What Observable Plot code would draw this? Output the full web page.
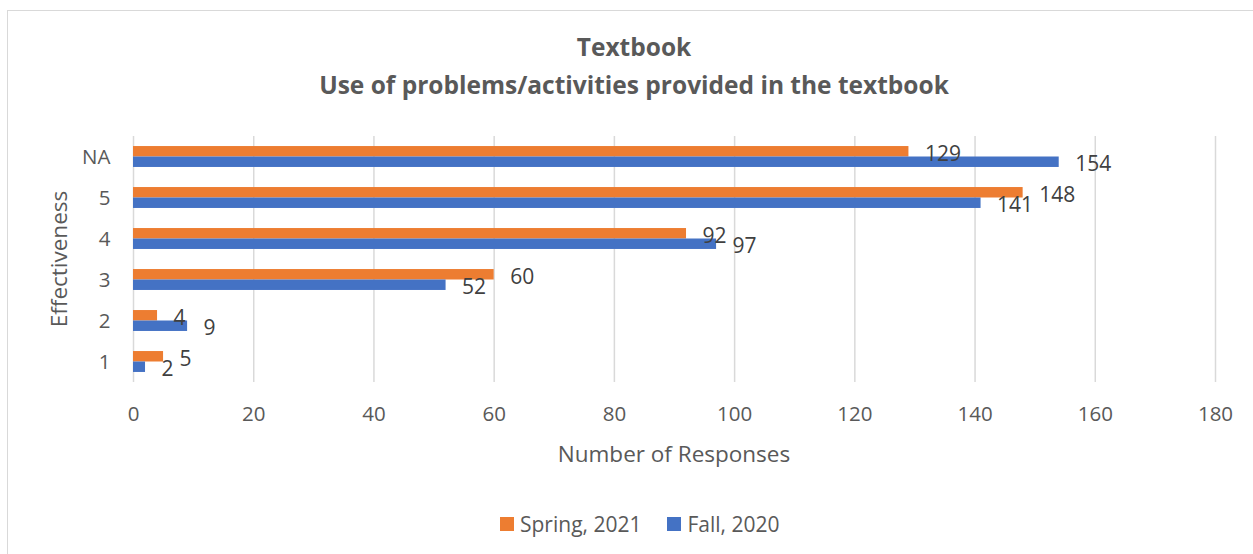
<!DOCTYPE html>
<html><head><meta charset="utf-8">
<script src="https://cdn.jsdelivr.net/npm/d3@7"></script>
<script src="https://cdn.jsdelivr.net/npm/@observablehq/plot@0.6"></script>
<style>
body{margin:0;background:#fff;font-family:"Open Sans",sans-serif;width:1253px;height:554px;overflow:hidden;position:relative;}
#frame{position:absolute;left:7px;top:10px;width:1254px;height:560px;border:1.5px solid #d9d9d9;box-sizing:border-box;}
.title{position:absolute;left:7px;width:1254px;text-align:center;color:#595959;font-weight:bold;font-size:24.5px;white-space:nowrap;line-height:34px;}
#chart{position:absolute;left:0;top:120px;}
#ylabel{position:absolute;left:58px;top:259px;transform:translate(-50%,-50%) rotate(-90deg);color:#595959;font-size:22.5px;white-space:nowrap;}
#xlabel{position:absolute;left:674px;top:453px;transform:translate(-50%,-50%);color:#595959;font-size:22.5px;white-space:nowrap;}
#legend{position:absolute;top:524px;left:500px;transform:translateY(-50%);display:flex;align-items:center;color:#595959;font-size:21px;white-space:nowrap;}
#legend .sw{display:inline-block;width:14px;height:14px;margin-right:6px;}
#legend .item{display:flex;align-items:center;margin-right:26px;}
</style>
</head><body>
<div id="frame"></div>
<div class="title" id="t1" style="top:30px;"></div>
<div class="title" id="t2" style="top:68px;"></div>
<div id="ylabel"></div>
<div id="chart"></div>
<div id="xlabel"></div>
<div id="legend"></div>
<script>
const titleText = "Textbook";
const subtitleText = "Use of problems/activities provided in the textbook";
const yTitle = "Effectiveness";
const xTitle = "Number of Responses";
const categories = ["NA", "5", "4", "3", "2", "1"];
const seriesNames = ["Spring, 2021", "Fall, 2020"];
const springValues = [129, 148, 92, 60, 4, 5];
const fallValues = [154, 141, 97, 52, 9, 2];
const xTicks = [0, 20, 40, 60, 80, 100, 120, 140, 160, 180];
const colors = ["#ED7D31", "#4472C4"];

document.getElementById("t1").textContent = titleText;
document.getElementById("t2").textContent = subtitleText;
document.getElementById("ylabel").textContent = yTitle;
document.getElementById("xlabel").textContent = xTitle;

const data = [];
categories.forEach((c, i) => {
  data.push({cat: c, series: seriesNames[0], value: springValues[i]});
  data.push({cat: c, series: seriesNames[1], value: fallValues[i]});
});

const chart = Plot.plot({
  width: 1253,
  height: 350,
  marginLeft: 133,
  marginRight: 38,
  marginTop: 15,
  marginBottom: 88,
  style: {fontFamily: "Open Sans, sans-serif", fontSize: "20px", color: "#595959", background: "transparent"},
  x: {domain: [0, 180]},
  fy: {domain: categories, padding: 0},
  y: {domain: seriesNames, paddingInner: 0, paddingOuter: 0.96, round: false},
  color: {domain: seriesNames, range: colors},
  marks: [
    Plot.gridX(xTicks, {stroke: "#d9d9d9", strokeOpacity: 1, strokeWidth: 1.5}),
    Plot.barX(data, {x: "value", y: "series", fy: "cat", fill: "series"}),
    Plot.text(data, {x: "value", y: "series", fy: "cat", text: d => String(d.value), textAnchor: "start", dx: 16, dy: 2, fill: "#404040", fontSize: 21}),
    Plot.axisX({ticks: xTicks, tickSize: 0, tickPadding: 24, label: null, fontSize: 20.5}),
    Plot.axisFy({anchor: "left", tickSize: 0, tickPadding: 23, label: null, fontSize: 20.5}),
    Plot.axisY({ticks: [], label: null})
  ]
});
document.getElementById("chart").appendChild(chart);

const legend = document.getElementById("legend");
seriesNames.forEach((s, i) => {
  const item = document.createElement("span");
  item.className = "item";
  const sw = document.createElement("span");
  sw.className = "sw";
  sw.style.background = colors[i];
  item.appendChild(sw);
  item.appendChild(document.createTextNode(s));
  legend.appendChild(item);
});
</script>
</body></html>
